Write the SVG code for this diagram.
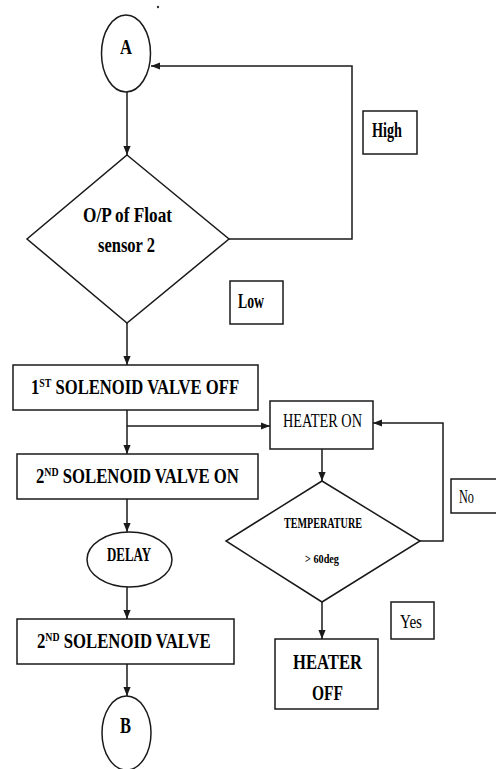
<svg xmlns="http://www.w3.org/2000/svg" width="496" height="769" viewBox="0 0 496 769">
<defs>
<style>
.ln{fill:none;stroke:#1a1a1a;stroke-width:1.5}
.sh{fill:#fff;stroke:#1a1a1a;stroke-width:1.5}
.t{font-family:"Liberation Serif","Times New Roman",serif;fill:#000}
.b{font-weight:bold}
</style>
<marker id="ah" viewBox="0 0 10 10" refX="10" refY="5" markerWidth="9" markerHeight="9" orient="auto" markerUnits="userSpaceOnUse">
<path d="M0,1 L10,5 L0,9 z" fill="#1a1a1a"/>
</marker>
</defs>
<rect width="496" height="769" fill="#fff"/>
<circle cx="158" cy="7" r="1.2" fill="#333"/>
<g id="connectors">
<path class="ln" d="M127,92 L127,155" marker-end="url(#ah)"/>
<path class="ln" d="M229,239 L352,239 L352,66 L151,66" marker-end="url(#ah)"/>
<path class="ln" d="M127,323 L127,365" marker-end="url(#ah)"/>
<path class="ln" d="M127,410 L127,454" marker-end="url(#ah)"/>
<path class="ln" d="M127,426 L270,426" marker-end="url(#ah)"/>
<path class="ln" d="M322,449 L322,481" marker-end="url(#ah)"/>
<path class="ln" d="M420,541 L443,541 L443,423 L373,423" marker-end="url(#ah)"/>
<path class="ln" d="M127,499 L127,532" marker-end="url(#ah)"/>
<path class="ln" d="M127,587 L127,619" marker-end="url(#ah)"/>
<path class="ln" d="M127,664 L127,696" marker-end="url(#ah)"/>
<path class="ln" d="M322,602 L322,639" marker-end="url(#ah)"/>
</g>
<g id="nodeA">
<ellipse class="sh" cx="126" cy="53.5" rx="24.5" ry="38.5"/>
<text class="t b" x="120" y="54" font-size="22" textLength="12" lengthAdjust="spacingAndGlyphs">A</text>
</g>
<g id="decision1">
<polygon class="sh" points="127,155 229,239 127,323 27,239"/>
<text class="t b" x="83" y="222" font-size="21" textLength="89" lengthAdjust="spacingAndGlyphs">O/P of Float</text>
<text class="t b" x="98" y="252" font-size="21" textLength="57" lengthAdjust="spacingAndGlyphs">sensor 2</text>
</g>
<g id="labelHigh">
<rect class="sh" x="363" y="111" width="54" height="43"/>
<text class="t b" x="372" y="137" font-size="20" textLength="30" lengthAdjust="spacingAndGlyphs">High</text>
</g>
<g id="labelLow">
<rect class="sh" x="230" y="281" width="53" height="43"/>
<text class="t b" x="238" y="308" font-size="20" textLength="26" lengthAdjust="spacingAndGlyphs">Low</text>
</g>
<g id="valve1Off">
<rect class="sh" x="13" y="365" width="245" height="45"/>
<text class="t b" font-size="22" transform="translate(31,394) scale(0.756,1)">1<tspan font-size="13" dy="-7">ST</tspan><tspan dy="7"> SOLENOID VALVE OFF</tspan></text>
</g>
<g id="heaterOn">
<rect class="sh" x="270" y="401" width="103" height="48"/>
<text class="t" x="283" y="427" font-size="19" textLength="79" lengthAdjust="spacingAndGlyphs">HEATER ON</text>
</g>
<g id="valve2On">
<rect class="sh" x="17" y="454" width="241" height="45"/>
<text class="t b" font-size="22" transform="translate(36,483) scale(0.76,1)">2<tspan font-size="13" dy="-7">ND</tspan><tspan dy="7"> SOLENOID VALVE ON</tspan></text>
</g>
<g id="decision2">
<polygon class="sh" points="322,481 420,541 322,602 226,541"/>
<text class="t b" x="284" y="528" font-size="14" textLength="78" lengthAdjust="spacingAndGlyphs">TEMPERATURE</text>
<text class="t b" x="305" y="563" font-size="13" textLength="34" lengthAdjust="spacingAndGlyphs">&gt; 60deg</text>
</g>
<g id="labelNo">
<rect class="sh" x="451" y="479" width="50" height="34"/>
<text class="t" x="459" y="503" font-size="19" textLength="15" lengthAdjust="spacingAndGlyphs">No</text>
</g>
<g id="delay">
<ellipse class="sh" cx="129.5" cy="559.5" rx="42.5" ry="27.5"/>
<text class="t b" x="107" y="561" font-size="18" textLength="44" lengthAdjust="spacingAndGlyphs">DELAY</text>
</g>
<g id="valve2">
<rect class="sh" x="17" y="619" width="217" height="45"/>
<text class="t b" font-size="22" transform="translate(37,648) scale(0.76,1)">2<tspan font-size="13" dy="-7">ND</tspan><tspan dy="7"> SOLENOID VALVE</tspan></text>
</g>
<g id="labelYes">
<rect class="sh" x="391" y="602" width="43" height="37"/>
<text class="t" x="400" y="628" font-size="19" textLength="22" lengthAdjust="spacingAndGlyphs">Yes</text>
</g>
<g id="heaterOff">
<rect class="sh" x="275" y="639" width="103" height="70"/>
<text class="t b" x="293" y="669" font-size="22" textLength="69" lengthAdjust="spacingAndGlyphs">HEATER</text>
<text class="t b" x="312" y="700" font-size="22" textLength="31" lengthAdjust="spacingAndGlyphs">OFF</text>
</g>
<g id="nodeB">
<ellipse class="sh" cx="126.5" cy="733" rx="24.5" ry="37"/>
<text class="t b" x="120" y="733" font-size="23" textLength="11" lengthAdjust="spacingAndGlyphs">B</text>
</g>
</svg>
